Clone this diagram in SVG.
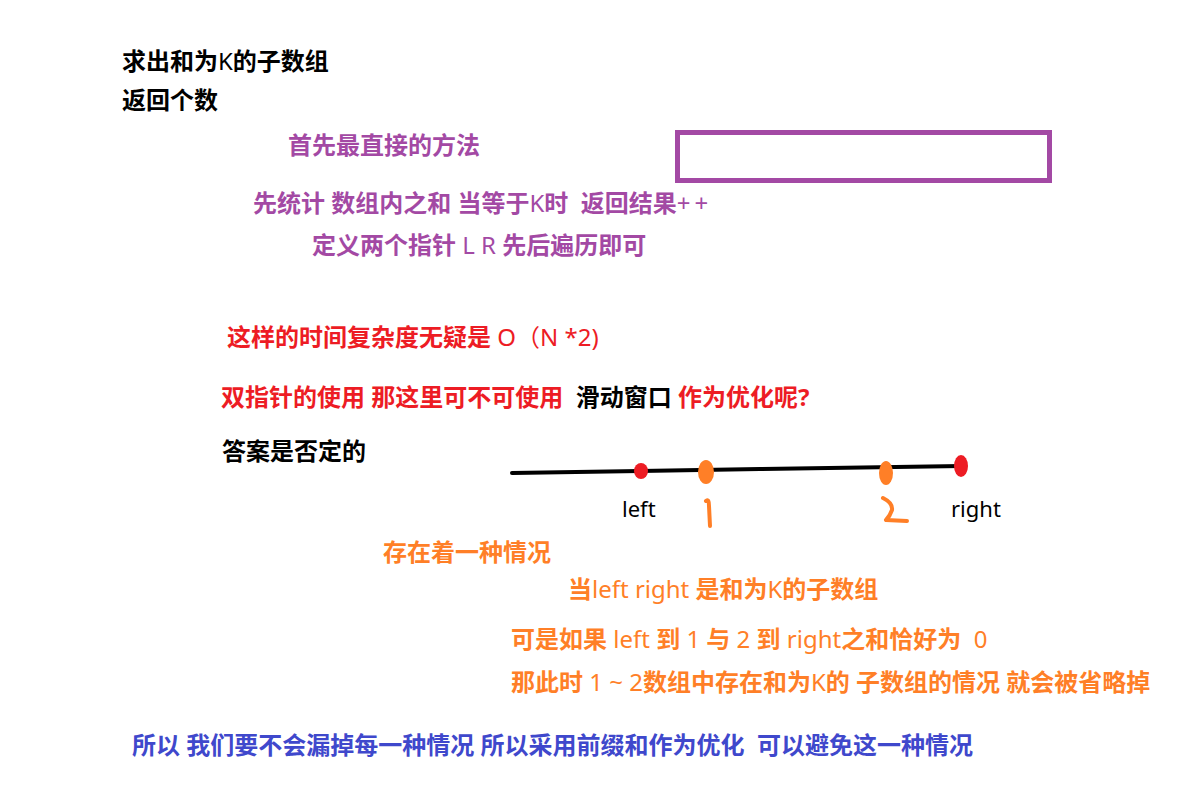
<svg xmlns="http://www.w3.org/2000/svg" width="1204" height="790" viewBox="0 0 1204 790">
<style>
text{font-family:"Noto Sans","Noto Sans CJK SC",sans-serif;font-size:24px;font-weight:700;white-space:pre}
.n{font-weight:400}
.k{fill:#000}
.p{fill:#A349A4}
.r{fill:#ED1C24}
.o{fill:#FF7F27}
.b{fill:#3F48CC}
.lbl{font-weight:400;font-size:22px}
</style>
<rect width="1204" height="790" fill="#fff"/>
<g id="title">
<text class="k" x="122" y="70">求出和为<tspan class="n">K</tspan>的子数组</text>
<text class="k" x="122" y="109">返回个数</text>
</g>
<g id="approach">
<text class="p" x="288" y="154">首先最直接的方法</text>
<rect x="677.5" y="132.5" width="372" height="48" fill="none" stroke="#A349A4" stroke-width="5"/>
<text class="p" x="253" y="212" xml:space="preserve">先统计 数组内之和 当等于<tspan class="n">K</tspan>时  返回结果<tspan class="n" letter-spacing="4">++</tspan></text>
<text class="p" x="312" y="254">定义两个指针 <tspan class="n">L R</tspan> 先后遍历即可</text>
</g>
<g id="complexity">
<text class="r" x="227" y="346">这样的时间复杂度无疑是 <tspan class="n">O（N *2)</tspan></text>
<text class="r" x="221" y="406" xml:space="preserve">双指针的使用 那这里可不可使用  <tspan class="k">滑动窗口</tspan> 作为优化呢?</text>
<text class="k" x="222" y="460">答案是否定的</text>
</g>
<g id="number-line">
<path d="M512,473 L640,471 L760,469 L962,466" fill="none" stroke="#000" stroke-width="4" stroke-linecap="round"/>
<ellipse cx="641" cy="471" rx="7" ry="8" fill="#ED1C24"/>
<ellipse cx="706" cy="472" rx="8" ry="12" fill="#FF7F27"/>
<ellipse cx="886" cy="473" rx="7" ry="12" fill="#FF7F27"/>
<ellipse cx="961" cy="466" rx="7" ry="11" fill="#ED1C24"/>
<path d="M706,501 Q709,498 709,506 L710,526" fill="none" stroke="#FF7F27" stroke-width="4" stroke-linecap="round"/>
<path d="M883,498 Q893,503 892,510 Q890,516 886,520 L907,521" fill="none" stroke="#FF7F27" stroke-width="4" stroke-linecap="round" stroke-linejoin="round"/>
<text class="k lbl" x="622" y="517">left</text>
<text class="k lbl" x="951" y="517">right</text>
</g>
<g id="case">
<text class="o" x="383" y="561">存在着一种情况</text>
<text class="o" x="568" y="598">当<tspan class="n">left right</tspan> 是和为<tspan class="n">K</tspan>的子数组</text>
<text class="o" x="511" y="648" xml:space="preserve">可是如果 <tspan class="n">left</tspan> 到 <tspan class="n">1</tspan> 与 <tspan class="n">2</tspan> 到 <tspan class="n">right</tspan>之和恰好为  <tspan class="n">0</tspan></text>
<text class="o" x="511" y="691">那此时 <tspan class="n">1 ~ 2</tspan>数组中存在和为<tspan class="n">K</tspan>的 子数组的情况 就会被省略掉</text>
</g>
<g id="conclusion">
<text class="b" x="132" y="754" xml:space="preserve">所以 我们要不会漏掉每一种情况 所以采用前缀和作为优化  可以避免这一种情况</text>
</g>
</svg>
